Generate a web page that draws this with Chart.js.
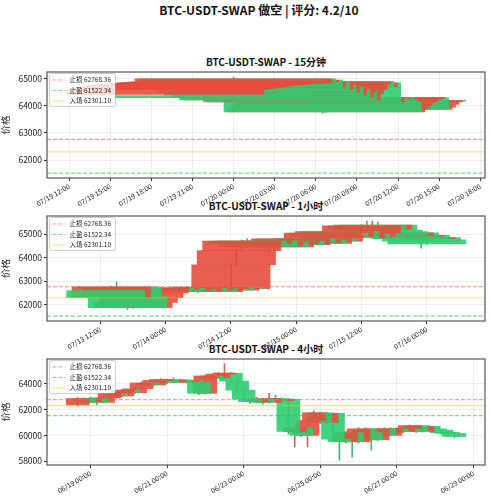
<!DOCTYPE html>
<html>
<head>
<meta charset="utf-8">
<script src="https://cdn.jsdelivr.net/npm/chart.js@4.4.1/dist/chart.umd.min.js"></script>
<style>
  body { margin: 0; background: #fff; width: 491px; height: 500px; position: relative; overflow: hidden;
         font-family: "Noto Sans CJK SC", "DejaVu Sans", sans-serif; }
  .ttl { position: absolute; left: 0; text-align: center; font-weight: bold; color: #111; white-space: nowrap; line-height: 12px; }
  canvas { position: absolute; left: 0; }
</style>
</head>
<body>
<div class="ttl" style="top:4px; width:518px; font-size:12px;">BTC-USDT-SWAP 做空 | 评分: 4.2/10</div>
<div class="ttl" style="top:56px; width:532px; font-size:10px;">BTC-USDT-SWAP - 15分钟</div>
<div class="ttl" style="top:200px; width:532px; font-size:10px;">BTC-USDT-SWAP - 1小时</div>
<div class="ttl" style="top:343px; width:532px; font-size:10px;">BTC-USDT-SWAP - 4小时</div>
<canvas id="chart15" width="491" height="156" style="top:67px"></canvas>
<canvas id="chart1h" width="491" height="155" style="top:211px"></canvas>
<canvas id="chart4h" width="491" height="156" style="top:354px"></canvas>
<script>
const FONT = '"Noto Sans CJK SC", "DejaVu Sans", sans-serif';
const UP = 'rgba(231, 76, 60, 0.9)';     // red = up
const DOWN = 'rgba(46, 204, 113, 0.9)';  // green = down
const UP_WICK = 'rgba(200, 60, 45, 0.8)';
const DOWN_WICK = 'rgba(30, 160, 85, 0.8)';

// trade levels
const levelNames = ['止损 62768.36', '止盈 61522.34', '入场 62301.10'];
const levelValues = [62768.36, 61522.34, 62301.10];
const levelColors = ['rgba(255, 90, 90, 0.6)', 'rgba(40, 200, 40, 0.6)', 'rgba(255, 190, 40, 0.5)'];
const levelDash = [[4, 2], [4, 2], []];

// 15 minute candles, hours after 07/19 00:00
const start15 = 19, step15 = 0.25;
const open15  = [64420,64600,64620,64640,64660,64680,64700,64715,64730,64745,64760,64775,64790,64800,64380,64810,64820,64830,64840,64850,
                 64860,65000,64900,64950,64700,64880,64600,64750,64500,64700,64400,64600,64300,64500,64220,64450,64600,64800,64900,64700,
                 64850,64150,64300,64250,64300,64200,64150,63780,63900,64000,64120,64180,64250,64280,64300,63870,63950,64050,64150,64200];
const close15 = [64600,64620,64640,64660,64680,64700,64715,64730,64745,64760,64775,64790,64800,64810,64300,64820,64830,64840,64850,64860,
                 65000,64900,64950,64700,64880,64600,64750,64500,64700,64400,64600,64300,64500,64220,64450,64600,64800,64900,64700,64850,
                 64150,64300,64250,64300,64200,64150,63780,63900,64000,64120,64180,64250,64280,64300,63870,63950,64050,64150,64200,64170];
const high15  = [64640,64650,64670,64690,64710,64730,64740,64760,64770,64790,64800,64810,64830,64840,64400,64850,64860,64870,64880,64890,
                 65060,65020,64980,64970,64900,64890,64780,64760,64720,64710,64620,64620,64520,64510,64470,64620,64820,64950,64910,64870,
                 64860,64320,64320,64330,64310,64220,64160,63920,64030,64140,64200,64270,64300,64320,64310,63970,64070,64170,64220,64220];
const low15   = [64400,64580,64600,64610,64640,64660,64680,64690,64710,64720,64740,64750,64770,64780,64280,64790,64800,64810,64820,64830,
                 64840,64880,64870,64680,64690,64580,64590,64480,64480,64380,64390,64280,64280,64200,64200,64430,64580,64780,64680,64690,
                 64130,64120,64200,64220,64180,64100,63720,63760,63880,63980,64100,64160,64230,64260,63850,63850,63930,64030,64130,64150];
const ticks15 = [12, 15, 18, 21, 24, 27, 30, 33, 36, 39, 42];
const tickLabels15 = ['07/19 12:00','07/19 15:00','07/19 18:00','07/19 21:00','07/20 00:00','07/20 03:00',
                      '07/20 06:00','07/20 09:00','07/20 12:00','07/20 15:00','07/20 18:00'];

// 1 hour candles, hours after 07/13 00:00
const start1h = 13, step1h = 1;
const open1h  = [62600,62300,62760,62700,62350,61880,62100,62300,62500,62720,62650,62700,62600,62650,62580,62700,62620,62680,62560,62700,
                 62750,62620,62700,62690,63700,64300,64700,64600,64700,64500,64650,64450,64600,64700,64550,64800,64650,64750,64600,64800,
                 64700,65040,64900,65100,64850,65000,64900,65050,65350,65200,65380,65170,65100,64950,65050,64900,64950,64800,64850,64750];
const close1h = [62300,62760,62700,62350,61880,62100,62300,62500,62720,62650,62700,62600,62650,62580,62700,62620,62680,62560,62700,62750,
                 62620,62700,62690,63700,64300,64700,64600,64700,64500,64650,64450,64600,64700,64550,64800,64650,64750,64600,64800,64700,
                 65040,64900,65100,64850,65000,64900,65050,65350,65200,65380,65170,65100,64950,65050,64900,64950,64800,64850,64700,64580];
const high1h  = [62650,62800,62970,62750,62400,62150,62350,62550,62780,62760,62750,62720,62700,62700,62750,62720,62700,62700,62750,62800,
                 62780,62800,62750,63750,64350,64750,64800,64750,64720,64700,64680,64650,64750,64720,64850,64820,64800,64770,64850,64820,
                 65100,65060,65150,65120,65050,65050,65100,65400,65550,65550,65500,65250,65150,65100,65100,65000,64980,64900,64880,64780];
const low1h   = [62250,62280,62650,62090,61800,61850,61950,62250,62450,62500,62600,62550,62550,62500,62550,62580,62590,62520,62540,62650,
                 62580,62600,62620,62650,63650,64250,64550,64550,64450,64480,64200,64400,64550,64500,64520,64600,64600,64550,64580,64650,
                 64680,64850,64880,64800,64800,64850,64880,65000,65150,65150,65100,65050,64900,64900,64850,64850,64750,64750,64400,64550];
const ticks1h = [12, 24, 36, 48, 60, 72];
const tickLabels1h = ['07/13 12:00','07/14 00:00','07/14 12:00','07/15 00:00','07/15 12:00','07/16 00:00'];

// 4 hour candles, hours after 06/18 00:00
const start4h = 16, step4h = 4;
const open4h  = [62350,62850,62600,62850,62550,62900,63250,63050,63500,63300,63600,64050,63900,64250,64300,64100,64300,64150,64200,64100,
                 63250,64600,64450,64750,64800,64200,63500,62800,62600,62800,62550,62850,62700,62800,60300,60600,60000,61150,61750,61000,
                 61700,59700,59500,60200,59500,60500,60200,59650,60500,60000,60500,60300,60550,60750,60300,60700,60500,60400,60200,60150];
const close4h = [62850,62600,62850,62550,62900,63250,63050,63500,63300,63600,64050,63900,64250,64300,64100,64300,64150,64200,64100,63250,
                 64600,64450,64750,64800,64200,63500,62800,62600,62800,62550,62850,62700,62800,60300,60600,60000,61150,61750,61000,61700,
                 59700,59500,60200,59500,60500,60200,59650,60500,60000,60500,60300,60550,60750,60300,60700,60500,60400,60200,60150,59900];
const high4h  = [62950,62900,62950,62900,63000,63300,63350,63600,63550,63700,64150,64100,64300,64400,64350,64450,64350,64300,64250,64150,
                 64700,64650,64850,65550,64850,64300,63600,62900,62950,62850,63250,63100,62900,62850,60800,60700,61300,61900,61800,61800,
                 61750,59900,60300,60300,60600,60600,60300,60550,60600,60600,60550,60700,60800,60800,60750,60750,60600,60450,60300,60250];
const low4h   = [62250,62500,62550,62350,62500,62850,62900,63000,63200,63250,63550,63800,63850,64150,64000,64050,64100,64050,63950,63150,
                 63200,64350,64400,64650,64100,63400,62600,62450,62500,62400,62500,62600,62550,60100,59100,59900,59100,61000,60900,60950,
                 59500,58080,59400,58300,59400,59800,58850,59600,59900,59950,60100,60200,60450,60200,60250,60400,60150,60000,59950,59800];
const ticks4h = [24, 72, 120, 168, 216, 264];
const tickLabels4h = ['06/19 00:00','06/21 00:00','06/23 00:00','06/25 00:00','06/27 00:00','06/29 00:00'];

const BAR_HOURS = 14.4; // 0.6 day wide bodies

// legend drawn inside the plot, top left
const insideLegend = {
  id: 'insideLegend',
  afterDraw(chart) {
    const ctx = chart.ctx, a = chart.chartArea;
    const x = a.left + 2.5, y = a.top + 1.5, w = 66, h = 33;
    ctx.save();
    ctx.fillStyle = 'rgba(255,255,255,0.8)';
    ctx.strokeStyle = 'rgba(0,0,0,0.18)';
    ctx.lineWidth = 1;
    ctx.beginPath();
    ctx.roundRect(x, y, w, h, 2);
    ctx.fill();
    ctx.stroke();
    ctx.font = '6.5px ' + FONT;
    ctx.textBaseline = 'middle';
    ctx.fillStyle = '#222';
    for (let i = 0; i < levelNames.length; i++) {
      const ry = y + 6.5 + i * 10.5;
      ctx.strokeStyle = levelColors[i];
      ctx.lineWidth = 1.2;
      ctx.setLineDash(levelDash[i]);
      ctx.beginPath();
      ctx.moveTo(x + 3, ry);
      ctx.lineTo(x + 16, ry);
      ctx.stroke();
      ctx.setLineDash([]);
      ctx.fillText(levelNames[i], x + 20, ry);
    }
    ctx.restore();
  }
};

// box around the plot
const frame = {
  id: 'frame',
  afterDatasetsDraw(chart) {
    const ctx = chart.ctx, a = chart.chartArea;
    ctx.save();
    ctx.strokeStyle = '#555';
    ctx.lineWidth = 1.2;
    ctx.strokeRect(a.left, a.top, a.right - a.left, a.bottom - a.top);
    ctx.restore();
  }
};

function drawCandles(id, p) {
  const n = p.open.length;
  const bodies = [], wicks = [], colors = [], wickColors = [];
  // newest first, so the oldest candle ends up on top
  for (let i = n - 1; i >= 0; i--) {
    const t = p.start + i * p.step;
    const up = p.close[i] >= p.open[i];
    bodies.push({ x: t, y: [p.open[i], p.close[i]] });
    wicks.push({ x: t, y: [p.low[i], p.high[i]] });
    colors.push(up ? UP : DOWN);
    wickColors.push(up ? UP_WICK : DOWN_WICK);
  }
  const lines = levelValues.map((v, i) => ({
    type: 'line',
    label: levelNames[i],
    data: [{ x: p.xMin, y: v }, { x: p.xMax, y: v }],
    borderColor: levelColors[i],
    borderDash: levelDash[i],
    borderWidth: 1.2,
    pointRadius: 0,
  }));

  const ctx = document.getElementById(id).getContext('2d');
  const chart = new Chart(ctx, {
    type: 'bar',
    data: {
      datasets: [
        ...lines,
        { label: 'body', data: bodies, backgroundColor: colors, barThickness: 20, grouped: false,
          borderWidth: 0, minBarLength: 1 },
        { label: 'wick', data: wicks, backgroundColor: wickColors, barThickness: 1, grouped: false,
          borderWidth: 0 },
      ]
    },
    options: {
      responsive: false,
      animation: false,
      devicePixelRatio: 1,
      layout: { padding: { top: 5, right: 6, left: 0, bottom: 0 } },
      plugins: { legend: { display: false }, tooltip: { enabled: false } },
      scales: {
        x: {
          type: 'linear',
          offset: false,
          min: p.xMin,
          max: p.xMax,
          afterBuildTicks: axis => { axis.ticks = p.ticks.map(v => ({ value: v })); },
          afterFit: s => { s.height = 45; s.paddingLeft = 0; s.paddingRight = 0; },
          ticks: {
            autoSkip: false, minRotation: 30, maxRotation: 30, padding: 1,
            font: { family: FONT, size: 7 }, color: '#222',
            callback: (v, i) => p.tickLabels[i]
          },
          grid: { offset: false, color: 'rgba(0,0,0,0.07)', tickColor: '#333', tickLength: 3 },
          border: { display: false }
        },
        y: {
          min: p.yMin,
          max: p.yMax,
          afterBuildTicks: axis => { axis.ticks = p.yTicks.map(v => ({ value: v })); },
          afterFit: s => { s.width = 47; s.paddingTop = 0; s.paddingBottom = 0; },
          ticks: { font: { family: FONT, size: 8.5 }, color: '#222', padding: 2, callback: v => String(v) },
          title: { display: true, text: '价格', font: { family: FONT, size: 9.5 }, color: '#222', padding: 0 },
          grid: { color: 'rgba(0,0,0,0.07)', tickColor: '#333', tickLength: 3 },
          border: { display: false }
        }
      }
    },
    plugins: [frame, insideLegend]
  });

  // body width is 0.6 day, measured through the x scale (twice, layout settles after the first pass)
  const xs = chart.scales.x;
  for (let k = 0; k < 2; k++) {
    chart.data.datasets[3].barThickness = xs.getPixelForValue(p.xMin + BAR_HOURS) - xs.getPixelForValue(p.xMin);
    chart.update('none');
  }
}

drawCandles('chart15', {
  start: start15, step: step15, open: open15, close: close15, high: high15, low: low15,
  xMin: 10.38, xMax: 42.35, ticks: ticks15, tickLabels: tickLabels15,
  yMin: 61340, yMax: 65250, yTicks: [62000, 63000, 64000, 65000]
});
drawCandles('chart1h', {
  start: start1h, step: step1h, open: open1h, close: close1h, high: high1h, low: low1h,
  xMin: 2.2, xMax: 82.7, ticks: ticks1h, tickLabels: tickLabels1h,
  yMin: 61315, yMax: 65765, yTicks: [62000, 63000, 64000, 65000]
});
drawCandles('chart4h', {
  start: start4h, step: step4h, open: open4h, close: close4h, high: high4h, low: low4h,
  xMin: -3.2, xMax: 271.2, ticks: ticks4h, tickLabels: tickLabels4h,
  yMin: 57700, yMax: 65910, yTicks: [58000, 60000, 62000, 64000]
});
</script>
</body>
</html>
